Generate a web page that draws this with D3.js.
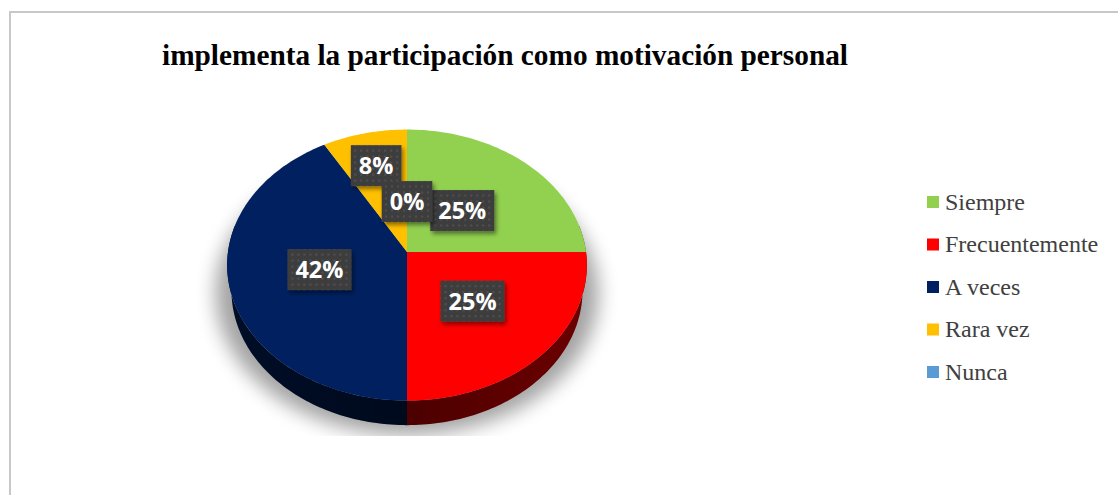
<!DOCTYPE html>
<html>
<head>
<meta charset="utf-8">
<script src="https://cdn.jsdelivr.net/npm/d3@7"></script>
<style>
  html, body { margin: 0; padding: 0; background: #fff; }
  svg { display: block; }
</style>
</head>
<body>
<div id="chart"></div>
<script>
// datos de la encuesta (12 respuestas)
const categorias = ["Siempre", "Frecuentemente", "A veces", "Rara vez", "Nunca"];
const frecuencias = [3, 3, 5, 1, 0];
const colores = ["#92d050", "#ff0000", "#002060", "#ffc000", "#5b9bd5"];
const titulo = "implementa la participación como motivación personal";

let width = 1118, height = 495;
let svg = d3.select("#chart").append("svg")
    .attr("width", width)
    .attr("height", height);

let defs = svg.append("defs");

// marco del grafico
svg.append("rect")
    .attr("x", 10).attr("y", 12)
    .attr("width", 1130).attr("height", 520)
    .attr("fill", "none")
    .attr("stroke", "#c8c8c8")
    .attr("stroke-width", 2);

svg.append("text")
    .attr("x", 162).attr("y", 65)
    .attr("font-family", "'Liberation Serif', 'Times New Roman', serif")
    .attr("font-weight", "bold")
    .attr("font-size", 29.3)
    .attr("fill", "#000")
    .text(titulo);

// proyeccion en perspectiva del disco 3D
const cx = 407, cy = 252;
const sa = 0.75, ca = Math.sqrt(1 - sa * sa);
const D = 6.86, f = 1228, grosor = 0.223;
function proj(u, v, h) {
    let depth = D - v * ca - h * sa;
    return [cx + f * u / depth, cy + f * (v * sa - h * ca) / depth];
}
function borde(a, h) {
    return proj(Math.sin(a), -Math.cos(a), h);
}
function muestras(a0, a1) {
    let n = Math.max(2, Math.ceil((a1 - a0) / 0.02));
    return d3.range(n + 1).map(i => a0 + (a1 - a0) * i / n);
}

let pie = d3.pie().sort(null).value(d => d);
let arcos = pie(frecuencias);
let total = d3.sum(frecuencias);
let pct = d3.format(".0%");
let line = d3.line();

// sombra
defs.append("filter").attr("id", "blur").attr("x", "-20%").attr("y", "-20%")
    .attr("width", "140%").attr("height", "140%")
    .append("feGaussianBlur").attr("stdDeviation", 9);
defs.append("clipPath").attr("id", "clipSombra")
    .append("rect").attr("x", 0).attr("y", 0).attr("width", width).attr("height", 436);
let contorno = muestras(0, 2 * Math.PI).map(a => {
    let p = borde(a, -grosor);
    return [p[0], p[1] + 2];
});
svg.append("g").attr("clip-path", "url(#clipSombra)")
    .append("path")
    .attr("d", line(contorno) + "Z")
    .attr("transform", "translate(" + cx + "," + (cy + 20) + ") scale(1.09,1.05) translate(" + (-cx) + "," + (-cy - 20) + ")")
    .attr("fill", "#000")
    .attr("opacity", 0.36)
    .attr("filter", "url(#blur)");

let pieG = svg.append("g");

// paredes laterales
arcos.forEach((d, i) => {
    let a0 = Math.max(d.startAngle, Math.PI / 2 - 0.2);
    let a1 = Math.min(d.endAngle, 3 * Math.PI / 2 + 0.2);
    if (a1 <= a0) return;
    let pts = muestras(a0, a1);
    let arriba = pts.map(a => borde(a, 0));
    let abajo = pts.slice().reverse().map(a => borde(a, -grosor));
    pieG.append("path")
        .attr("d", line(arriba.concat(abajo)) + "Z")
        .attr("fill", d3.color(colores[i]).darker(2.4));
});

// sombreado de la pared
let grad = defs.append("linearGradient").attr("id", "pared")
    .attr("gradientUnits", "userSpaceOnUse")
    .attr("x1", 228).attr("x2", 586).attr("y1", 0).attr("y2", 0);
grad.append("stop").attr("offset", "0%").attr("stop-color", "#000").attr("stop-opacity", 0.05);
grad.append("stop").attr("offset", "50%").attr("stop-color", "#000").attr("stop-opacity", 0.3);
grad.append("stop").attr("offset", "100%").attr("stop-color", "#000").attr("stop-opacity", 0.0);
let frente = muestras(Math.PI / 2 - 0.2, 3 * Math.PI / 2 + 0.2);
pieG.append("path")
    .attr("d", line(frente.map(a => borde(a, 0)).concat(frente.slice().reverse().map(a => borde(a, -grosor)))) + "Z")
    .attr("fill", "url(#pared)");

// caras superiores
arcos.forEach((d, i) => {
    if (d.endAngle - d.startAngle <= 0) return;
    let pts = [proj(0, 0, 0)].concat(muestras(d.startAngle, d.endAngle).map(a => borde(a, 0)));
    pieG.append("path")
        .attr("d", line(pts) + "Z")
        .attr("fill", colores[i]);
});

// etiquetas de datos
let pat = defs.append("pattern").attr("id", "puntos")
    .attr("width", 6).attr("height", 6)
    .attr("patternUnits", "userSpaceOnUse");
pat.append("rect").attr("width", 6).attr("height", 6).attr("fill", "#3e3e3e");
pat.append("circle").attr("cx", 3).attr("cy", 3).attr("r", 0.9).attr("fill", "#575757");
let sombra = defs.append("filter").attr("id", "sombraEtiqueta")
    .attr("x", "-30%").attr("y", "-30%").attr("width", "160%").attr("height", "160%");
sombra.append("feDropShadow").attr("dx", 2).attr("dy", 3)
    .attr("stdDeviation", 2).attr("flood-color", "#000").attr("flood-opacity", 0.45);

const radioEtiqueta = [0.45, 0.5, 0.5, 0.71, 0.39];
let ordenEtiquetas = [0, 1, 2, 3, 4];
ordenEtiquetas.forEach(i => {
    let d = arcos[i];
    let mid = (d.startAngle + d.endAngle) / 2;
    let r = radioEtiqueta[i];
    let p = proj(r * Math.sin(mid), -r * Math.cos(mid), 0);
    let g = svg.append("g").attr("transform", "translate(" + p[0] + "," + p[1] + ")");
    let box = g.append("rect").attr("fill", "url(#puntos)").attr("filter", "url(#sombraEtiqueta)");
    let t = g.append("text")
        .attr("text-anchor", "middle")
        .attr("dy", "0.36em")
        .attr("font-family", "'Open Sans', 'Noto Sans', sans-serif")
        .attr("font-weight", "bold")
        .attr("font-size", 23.5)
        .attr("fill", "#fff")
        .text(pct(frecuencias[i] / total));
    let w = t.node().getComputedTextLength() + 16;
    box.attr("x", -w / 2).attr("y", -20.5).attr("width", w).attr("height", 41);
});

// leyenda
let yLeyenda = d3.scalePoint().domain(categorias).range([202, 372]);
let leyenda = svg.append("g").selectAll("g")
    .data(categorias)
    .enter()
    .append("g")
    .attr("transform", d => "translate(927," + yLeyenda(d) + ")");
leyenda.append("rect")
    .attr("x", 0).attr("y", -6)
    .attr("width", 12).attr("height", 12)
    .attr("fill", (d, i) => colores[i]);
leyenda.append("text")
    .attr("x", 18).attr("dy", "0.33em")
    .attr("font-family", "'Liberation Serif', 'Times New Roman', serif")
    .attr("font-size", 24)
    .attr("fill", "#404040")
    .text(d => d);
</script>
</body>
</html>
